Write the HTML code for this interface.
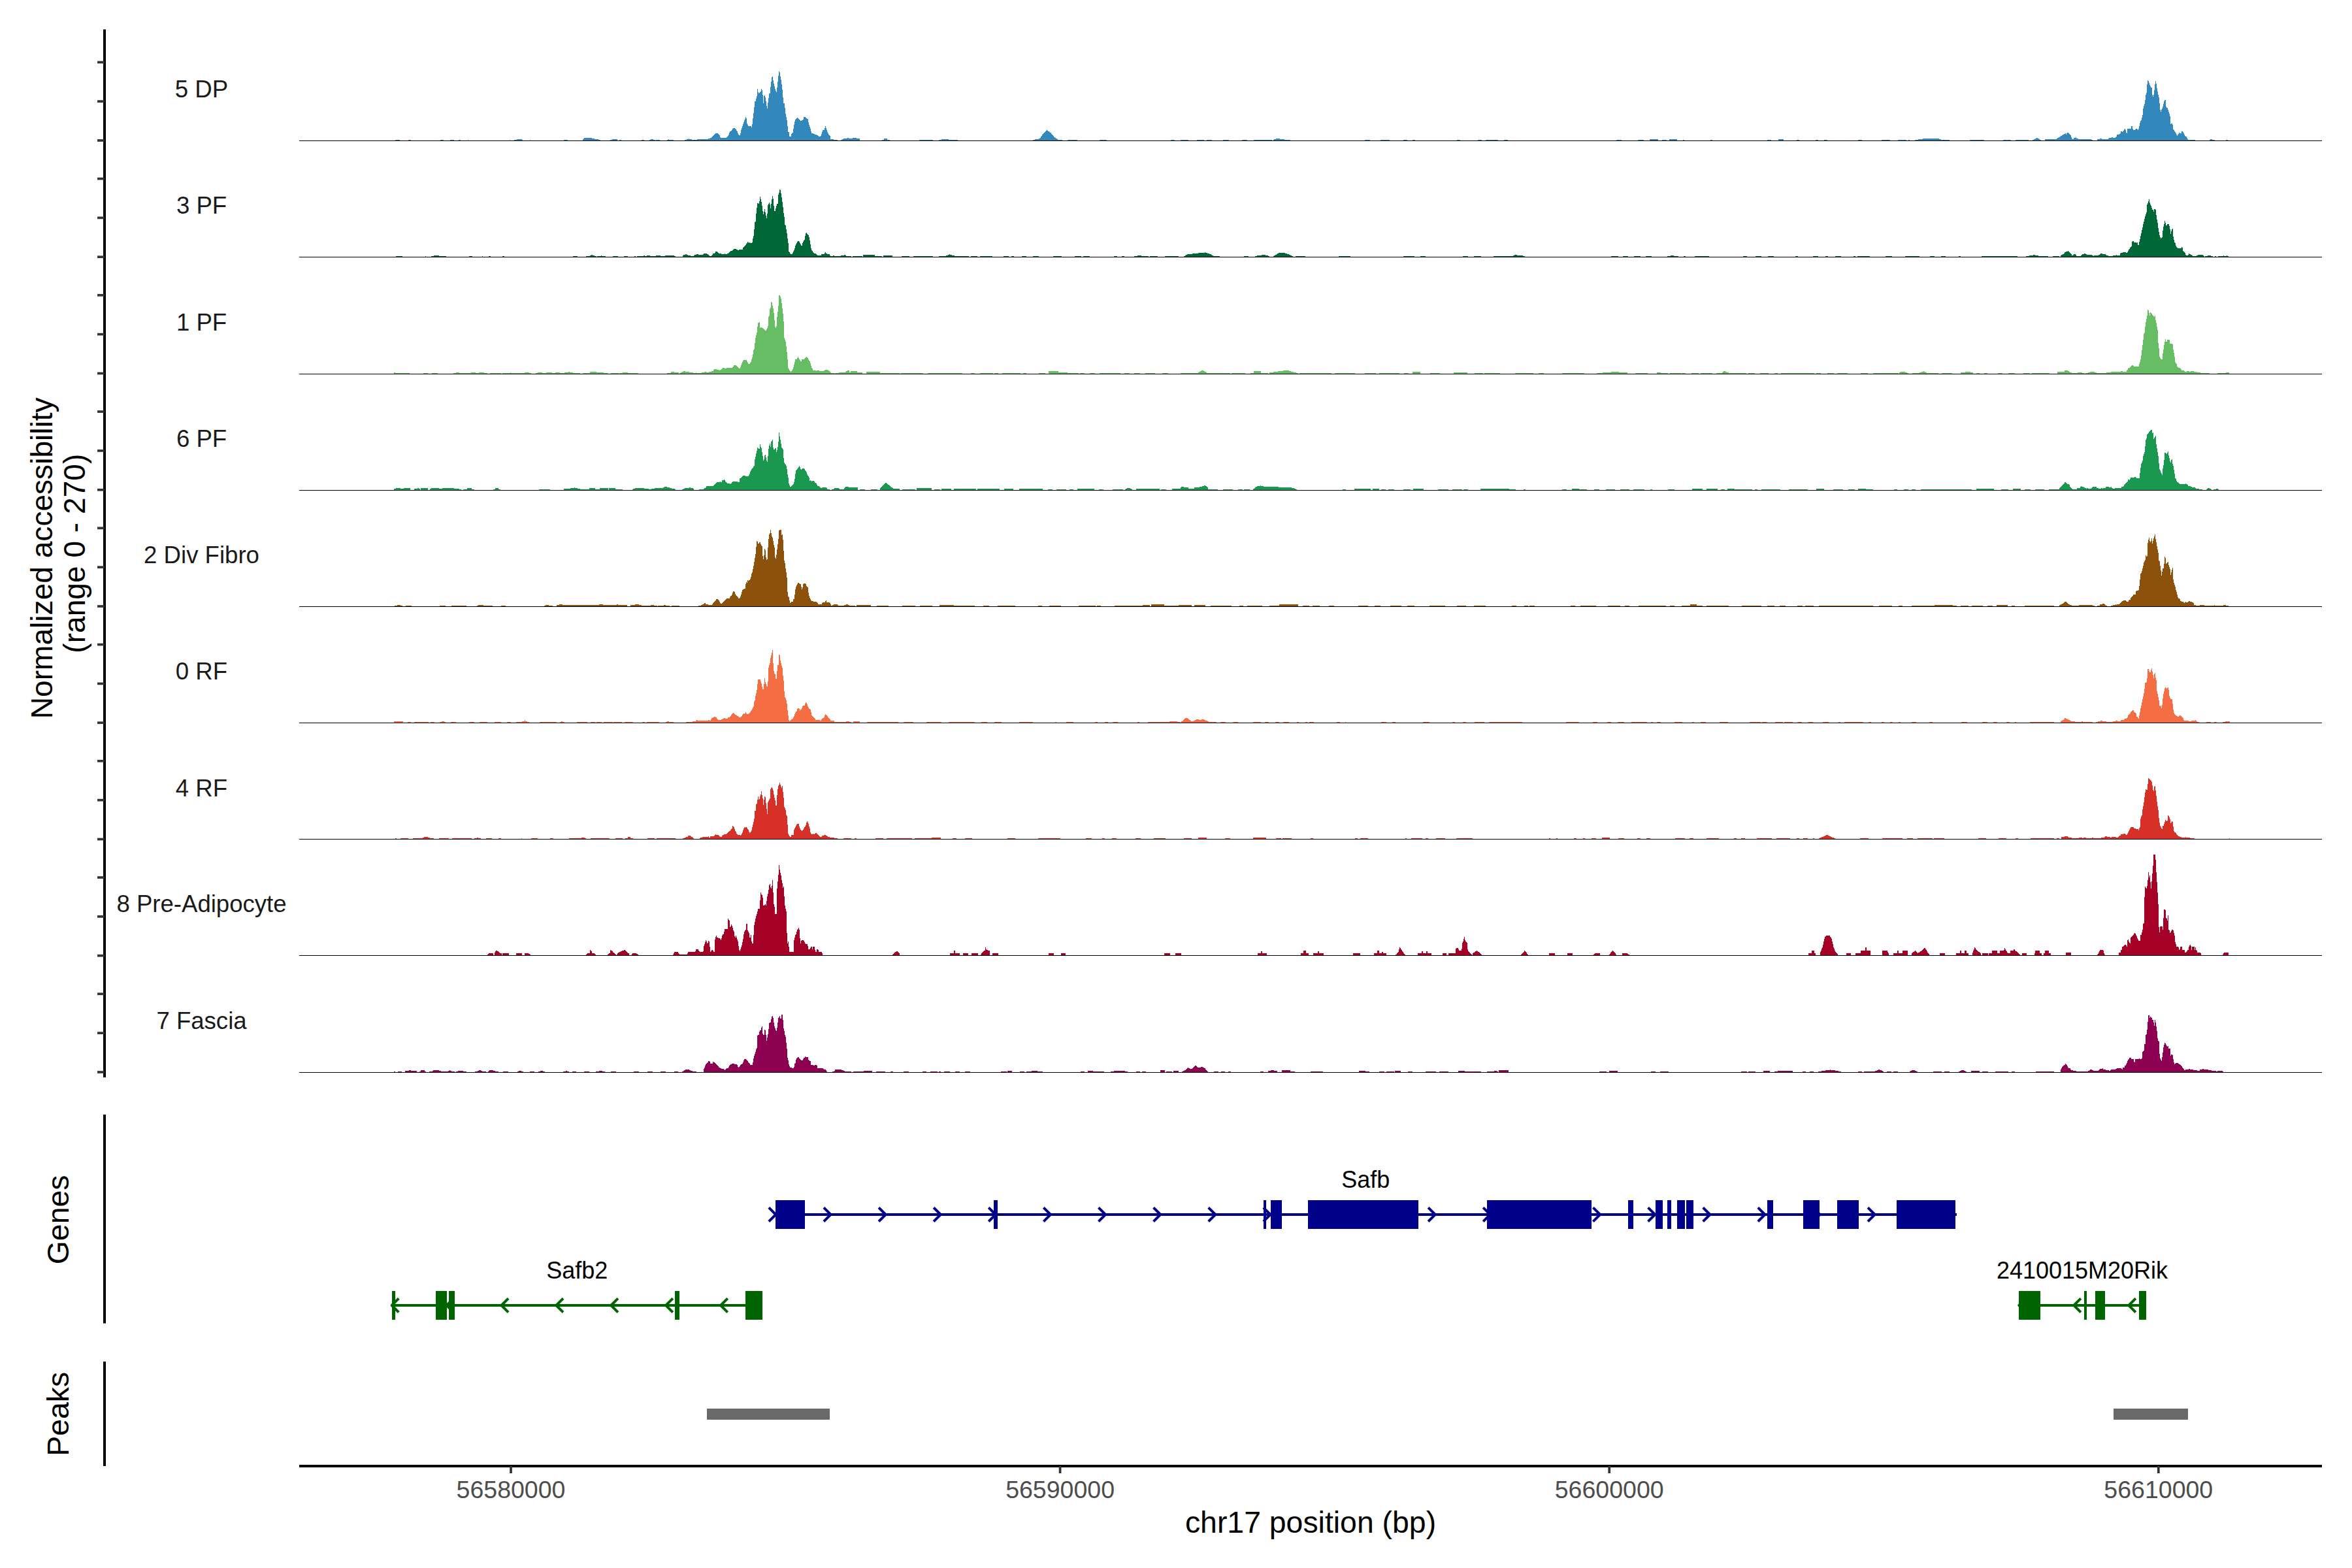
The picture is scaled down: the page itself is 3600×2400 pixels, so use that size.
<!DOCTYPE html>
<html><head><meta charset="utf-8"><title>Coverage plot</title>
<style>
html,body{margin:0;padding:0;background:#fff;}
body{width:3600px;height:2400px;overflow:hidden;}
svg{display:block;}
text{font-family:"Liberation Sans",sans-serif;}
</style></head><body>
<svg width="3600" height="2400" viewBox="0 0 3600 2400">
<rect width="3600" height="2400" fill="#fff"/>
<g shape-rendering="crispEdges">
<path fill="#3288BD" d="M605 216v-2h7v2zM625 216v-2h4v2zM674 216v-2h5v2zM689 216v-2h6v2zM702 216v-2h3v2zM716 216v-2h1v2zM780 216v-2h1v2zM787 216v-2h4v-1h8v1h1v2zM811 216v-2h1v2zM863 216v-2h6v2zM892 216v-3h1v-1h1v-1h12v1h4v1h6v1h3v2zM934 216v-2h3v-1h8v3zM948 216v-2h3v2zM982 216v-2h4v2zM994 216v-2h2v-1h4v1h3v2zM1004 216v-2h6v2zM1021 216v-2h2v-1h1v1h7v2zM1048 216v-2h3v-1h3v-1h1v1h4v1h8v-1h17v-1h3v-1h2v-1h1v-1h1v-1h1v-1h1v-1h1v-1h1v-1h4v1h1v1h1v1h1v3h1v1h9v-1h1v-1h1v-1h1v-2h1v-3h1v-2h2v-1h1v-1h1v-2h1v-1h3v1h1v1h1v2h1v1h1v3h1v2h1v1h2v-3h1v-5h1v-3h1v-3h1v-3h1v-3h1v-3h1v-2h1v-3h1v2h1v8h1v2h1v2h5v2h1v-5h1v-9h1v-8h1v-9h1v-9h2v-4h1v-4h1v-11h1v5h1v2h1v-1h1v-1h1v-1h1v-4h1v2h1v7h1v13h1v-11h1v-1h1v3h1v6h1v7h1v4h1v-9h1v-7h1v-7h2v-10h1v-8h1v-7h1v-1h1v6h1v5h1v4h1v4h1v3h1v2h1v-7h1v-9h1v-9h1v-7h1v2h1v6h1v5h1v7h1v8h1v12h1v9h2v7h1v9h1v5h1v5h1v9h1v9h2v7h3v-4h1v-1h1v-1h1v-6h1v-6h1v-5h1v-3h1v-1h1v-1h1v-1h1v1h1v1h1v1h1v1h1v1h2v-1h2v-1h1v-4h3v1h1v1h1v1h2v5h1v4h1v3h1v3h1v4h1v3h3v1h2v1h3v1h2v1h1v1h3v-1h1v-3h1v-3h1v-3h3v-3h1v-3h1v3h1v3h1v3h1v2h1v2h1v1h1v1h1v5h5v1h6v2zM1287 216v-2h2v-1h2v-1h6v-1h2v1h6v-1h6v1h5v4zM1350 216v-2h3v-2h5v2h4v2zM1407 216v-2h21v2zM1437 216v-2h4v-1h11v1h14v2zM1581 216v-2h3v-1h6v-1h2v-1h1v-2h1v-1h1v-2h1v-1h1v-1h1v-1h1v-1h1v-1h1v-1h1v-1h1v1h1v1h2v1h1v1h2v2h1v1h1v1h1v1h1v2h2v1h1v1h2v1h1v1h7v2zM1634 216v-2h15v2zM1683 216v-2h11v2zM1792 216v-2h6v2zM1807 216v-2h12v2zM1832 216v-2h11v2zM1847 216v-2h8v2zM1872 216v-2h9v2zM1901 216v-2h8v2zM1919 216v-2h28v2zM1949 216v-2h1v-1h3v-1h6v1h7v1h9v2zM2089 216v-2h8v2zM2113 216v-2h14v2zM2148 216v-2h6v2zM2162 216v-2h4v2zM2230 216v-2h5v2zM2262 216v-2h6v2zM2274 216v-2h19v2zM2302 216v-2h6v2zM2474 216v-2h8v2zM2507 216v-2h9v2zM2525 216v-3h13v3zM2544 216v-2h7v2zM2555 216v-3h12v3zM2576 216v-2h2v2zM2618 216v-2h3v2zM2705 216v-2h6v2zM2722 216v-3h8v3zM2750 216v-2h4v2zM2779 216v-2h4v2zM2792 216v-2h5v2zM2844 216v-2h6v2zM2880 216v-2h13v2zM2905 216v-2h13v2zM2921 216v-2h2v2zM2931 216v-2h5v-1h7v-1h25v1h3v1h13v2zM3015 216v-2h22v2zM3066 216v-2h12v2zM3085 216v-2h20v2zM3111 216v-2h2v-1h2v-1h2v-1h2v1h2v1h1v1h2v2zM3130 216v-3h18v-1h1v-1h2v-1h2v-1h1v-1h2v-1h1v-1h2v-1h2v-1h1v2h1v-2h1v-1h2v1h1v1h1v1h1v1h1v3h1v2h1v1h2v-2h3v-1h1v2h3v1h20v1h2v2zM3210 216v-3h4v-1h3v1h10v-1h1v-1h4v-1h2v1h4v-1h1v-1h1v-3h4v-1h1v-1h1v-3h2v1h1v-1h1v-1h1v-2h1v-1h1v2h1v4h1v1h1v-7h6v-4h2v4h1v2h3v-1h1v-1h2v1h1v1h1v-2h1v-4h1v-5h1v-3h1v-1h1v-4h1v-4h1v-10h1v-4h1v-3h1v-6h1v-8h1v-3h1v-13h1v-6h1v1h1v3h1v3h1v2h1v2h2v11h1v3h1v-3h1v-7h1v-9h1v-5h1v4h1v7h1v5h1v5h1v4h1v9h1v10h1v3h1v-3h1v-2h1v-3h1v-4h1v-4h1v-2h2v10h1v2h2v3h1v3h1v3h1v4h1v12h1v-1h2v2h1v7h1v1h1v2h1v1h1v2h1v2h1v2h1v-2h1v-1h1v-2h1v1h3v-3h2v1h1v2h1v2h1v2h1v1h2v2h1v2h1v1h11v2zM3382 216v-2h1v-1h3v1h4v2zM3407 216v-2h3v2z"/>
<rect x="458" y="215" width="3096" height="1" fill="#000"/>
<path fill="#006837" d="M606 394v-2h10v2zM651 394v-2h1v2zM660 394v-2h4v-1h8v1h11v2zM718 394v-2h5v2zM738 394v-2h1v2zM748 394v-2h3v2zM769 394v-2h3v2zM877 394v-2h7v2zM897 394v-2h6v-1h2v-1h2v1h3v1h3v2zM914 394v-2h6v-1h1v1h6v2zM938 394v-2h8v2zM955 394v-2h6v2zM971 394v-2h2v2zM975 394v-2h10v-1h2v1h3v-1h5v1h9v-1h7v1h7v-1h14v1h2v2zM1045 394v-3h1v-1h3v-1h2v1h2v1h4v1h5v-1h1v-1h3v-1h3v1h7v-1h1v-1h5v1h2v1h1v1h1v1h3v-1h1v-1h1v-2h3v-1h1v-2h3v1h1v1h1v1h4v1h5v-1h1v1h3v-1h2v-1h1v-1h1v-1h1v-1h3v-1h1v-1h1v-1h4v1h2v1h2v-1h6v-3h1v-1h1v-1h1v-1h1v-1h1v-2h1v-1h1v-2h1v1h1v1h1v-1h1v1h3v-1h1v-6h1v-4h1v-10h1v-11h1v-1h1v-12h1v-9h1v-7h2v1h1v-4h1v-7h1v4h1v4h1v6h1v8h1v5h1v-4h1v-4h1v5h1v5h1v4h1v-7h1v-13h1v-2h1v-2h1v3h1v6h1v-7h1v-7h1v-5h1v4h1v11h1v8h2v-4h1v-4h1v-3h2v-14h1v-3h1v-5h1v1h1v5h1v6h1v7h1v8h1v9h1v6h1v12h1v1h1v6h1v6h1v8h1v7h1v13h1v1h1v2h1v1h3v-2h1v-2h1v-2h1v-3h1v-4h1v-2h1v-2h1v-2h1v-1h2v1h1v2h1v2h1v2h2v-4h1v-2h1v-2h1v-1h1v-6h1v-4h1v-1h1v2h1v1h1v1h1v3h1v5h1v6h1v6h1v3h1v1h1v2h1v1h1v1h3v1h1v1h1v1h6v-2h5v-2h1v-1h1v2h2v1h4v2h1v1h4v-1h2v1h10v-1h5v-1h2v1h1v1h8v2zM1305 394v-2h15v2zM1321 394v-4h18v2h11v2zM1352 394v-3h14v3zM1380 394v-2h12v2zM1398 394v-2h30v2zM1437 394v-2h11v-1h3v-1h2v-1h1v1h3v1h4v1h22v2zM1486 394v-2h10v2zM1500 394v-2h19v2zM1536 394v-2h8v2zM1548 394v-2h4v2zM1564 394v-2h7v2zM1581 394v-2h9v2zM1612 394v-2h13v2zM1645 394v-2h10v2zM1658 394v-2h10v2zM1705 394v-2h5v2zM1717 394v-2h4v2zM1736 394v-2h5v-1h6v1h11v2zM1760 394v-2h12v2zM1783 394v-2h21v2zM1812 394v-2h2v-1h1v-1h2v-1h8v-1h9v-1h10v-1h1v1h3v1h3v1h3v1h1v1h2v1h10v2zM1904 394v-2h7v2zM1921 394v-2h3v-1h7v-1h6v1h4v1h2v2zM1949 394v-2h1v-1h2v-1h2v-1h1v-1h2v-1h10v1h3v1h3v1h2v1h2v1h2v2zM1983 394v-2h15v2zM2049 394v-2h18v2zM2148 394v-2h17v2zM2174 394v-2h8v2zM2239 394v-2h8v2zM2256 394v-2h11v2zM2286 394v-2h30v-1h2v-1h4v1h9v1h3v2zM2466 394v-2h11v2zM2484 394v-2h8v2zM2501 394v-2h10v2zM2519 394v-2h9v2zM2552 394v-2h5v-1h5v1h7v2zM2577 394v-2h3v2zM2594 394v-2h22v2zM2668 394v-2h6v2zM2687 394v-2h9v2zM2706 394v-2h9v2zM2748 394v-2h4v2zM2775 394v-2h8v2zM2794 394v-2h4v2zM2809 394v-2h9v2zM2837 394v-2h3v2zM2843 394v-2h19v2zM2886 394v-2h10v2zM2916 394v-2h22v2zM2954 394v-2h7v2zM2971 394v-2h7v2zM2998 394v-2h3v2zM3033 394v-2h55v2zM3101 394v-2h5v-1h6v-1h3v1h5v1h15v2zM3142 394v-2h10v2zM3154 394v-3h1v-1h2v-1h2v-1h1v-2h2v-1h3v-1h1v1h1v1h1v1h1v1h1v1h1v2h2v-1h1v-1h3v1h1v2h7v-1h1v-1h1v-1h3v-1h2v1h2v1h8v1h2v1h1v-1h7v-1h2v-1h1v-1h3v1h5v1h1v1h3v1h7v-1h5v-1h1v1h5v-3h1v-1h3v-1h5v1h2v-1h1v-2h1v-2h1v-1h1v-2h1v-1h1v-1h1v-7h1v-1h2v2h4v1h1v-1h1v4h2v-5h1v-4h1v-5h1v-4h1v-5h1v-4h1v-5h1v-4h1v-4h1v-4h1v-3h1v-3h1v-12h1v-2h1v-3h1v-3h1v5h1v3h1v2h1v3h1v3h2v3h1v-4h2v1h1v8h1v7h1v5h1v8h1v6h1v5h1v3h1v2h1v-1h1v-1h1v-10h1v-6h1v-4h1v-5h1v3h1v4h2v-2h3v3h1v5h1v7h1v-4h1v-3h1v-1h1v12h1v5h1v4h1v1h1v4h1v2h1v1h1v1h6v-2h1v1h1v5h1v1h1v1h1v1h1v3h1v1h3v-1h1v-2h1v1h2v1h2v1h1v1h6v-1h2v-1h8v1h1v1h1v2zM3375 394v-2h4v-1h5v1h3v2zM3390 394v-2h2v2zM3395 394v-2h8v-1h1v1h4v-1h1v1h2v2z"/>
<rect x="458" y="393" width="3096" height="1" fill="#000"/>
<path fill="#66BD63" d="M603 573v-3h2v1h22v2zM648 573v-2h7v2zM661 573v-2h9v2zM694 573v-2h4v-1h5v1h18v-1h7v1h5v-1h8v1h5v2zM750 573v-2h17v2zM769 573v-2h12v-1h1v1h21v-1h7v1h3v2zM820 573v-2h3v-1h7v1h6v-1h9v1h5v-1h7v1h7v-1h6v-1h2v1h5v1h11v2zM892 573v-2h11v-2h10v1h11v1h7v2zM935 573v-2h12v2zM948 573v-2h5v-1h8v1h16v2zM1021 573v-2h6v-2h5v1h7v3zM1040 573v-2h2v-1h2v-1h2v-1h3v1h6v1h6v1h4v-1h1v1h8v-1h4v-1h3v1h4v-1h4v-1h3v-2h1v-1h4v1h4v1h1v-1h2v-1h1v-1h1v-1h3v1h3v-1h9v-1h1v-1h1v-2h4v1h1v1h1v1h1v1h1v1h2v-2h1v-3h1v-3h1v-2h1v-2h1v-1h5v2h1v2h1v2h3v-2h1v-1h1v-4h1v-3h1v-5h1v-6h1v-2h1v-9h1v-8h1v-4h1v-4h1v-9h1v-6h2v-1h1v9h1v-1h2v1h2v1h1v1h1v1h1v1h2v-2h1v-2h1v-3h1v-14h1v-2h1v-10h1v-2h1v-9h1v1h1v5h1v4h1v7h1v11h1v10h1v2h1v-3h1v-14h1v-8h1v-9h1v-16h2v2h1v3h1v7h1v8h1v8h1v12h1v25h1v3h1v3h1v7h1v9h1v11h1v13h1v2h1v2h1v1h1v1h1v-1h1v-1h1v-2h1v-3h1v-4h1v-4h1v-4h3v-2h1v-2h1v2h1v2h1v1h1v2h2v-3h4v-1h1v-1h1v-1h1v-1h1v1h1v1h1v2h1v2h1v1h1v3h1v4h1v3h1v1h1v3h5v1h1v-1h4v1h7v-1h2v-1h4v1h2v1h1v1h1v1h1v1h5v2zM1278 573v-2h6v-1h10v-1h1v-1h2v-1h3v3h2v-2h10v2h8v3zM1326 573v-4h21v2h30v2zM1379 573v-2h34v2zM1420 573v-2h53v2zM1486 573v-2h6v2zM1500 573v-2h20v2zM1522 573v-2h6v2zM1534 573v-2h28v2zM1566 573v-2h5v2zM1590 573v-2h10v2zM1605 573v-5h15v2h14v1h17v2zM1653 573v-2h7v2zM1668 573v-2h8v2zM1683 573v-2h32v2zM1721 573v-2h8v2zM1736 573v-2h9v2zM1753 573v-2h15v2zM1779 573v-2h9v2zM1807 573v-2h27v-1h1v-1h2v-1h2v-1h3v1h2v1h2v1h1v1h36v2zM1885 573v-2h21v2zM1914 573v-2h5v-3h11v3h11v2zM1943 573v-3h6v-1h7v-1h8v-1h9v1h3v1h4v1h4v1h3v2zM1989 573v-2h49v2zM2043 573v-2h31v2zM2089 573v-2h17v2zM2111 573v-2h31v2zM2149 573v-2h7v2zM2162 573v-4h12v4zM2189 573v-2h15v2zM2225 573v-3h21v3zM2257 573v-2h13v2zM2272 573v-2h24v2zM2319 573v-2h28v2zM2355 573v-2h8v2zM2391 573v-2h34v2zM2444 573v-2h9v-1h13v-1h12v1h13v3zM2503 573v-2h19v2zM2536 573v-3h6v1h11v2zM2556 573v-2h17v2zM2574 573v-2h6v2zM2589 573v-2h11v2zM2603 573v-2h18v2zM2627 573v-2h9v-1h1v-1h1v-1h3v1h2v1h3v1h27v2zM2676 573v-2h10v2zM2694 573v-2h13v2zM2716 573v-2h5v2zM2726 573v-2h51v2zM2780 573v-2h7v2zM2797 573v-2h10v2zM2812 573v-2h16v2zM2848 573v-2h11v2zM2867 573v-2h39v2zM2907 573v-3h2v-1h7v1h3v1h2v2zM2927 573v-2h11v-1h3v-1h3v-1h1v1h2v1h2v1h18v2zM2972 573v-2h16v2zM3001 573v-3h7v-1h8v1h4v3zM3025 573v-2h5v2zM3037 573v-2h5v2zM3058 573v-2h7v2zM3074 573v-2h10v2zM3097 573v-2h10v2zM3110 573v-2h27v2zM3149 573v-4h11v-2h5v1h2v1h1v1h3v1h9v-1h7v1h4v2zM3192 573v-2h4v-1h3v-1h7v1h3v1h15v-1h7v-1h15v-1h3v1h6v-2h1v-1h1v-2h1v-1h2v-1h1v-1h1v-1h1v-1h2v1h1v1h8v-4h1v-3h1v-4h1v-6h1v-8h1v-8h1v-8h1v-9h1v-2h1v-9h1v-7h1v-5h1v-5h1v-9h1v1h1v4h1v4h1v-5h1v1h1v1h1v2h1v1h1v1h1v1h1v-2h1v7h1v4h1v6h1v5h1v20h1v8h1v13h1v2h1v2h3v-9h1v-6h1v-7h1v-5h1v-4h1v4h2v-3h4v6h4v1h1v8h1v5h1v6h1v8h1v2h1v1h1v4h1v1h1v1h3v1h1v1h1v2h4v1h1v1h3v-1h4v1h2v-1h5v1h3v1h1v-1h1v1h5v1h14v2zM3394 573v-2h13v-1h5v3z"/>
<rect x="458" y="572" width="3096" height="1" fill="#000"/>
<path fill="#1A9850" d="M603 751v-3h3v-1h7v1h5v-1h10v4zM634 751v-3h5v-1h2v1h2v3zM644 751v-4h11v4zM658 751v-3h2v-1h12v1h5v-1h18v1h8v1h3v2zM709 751v-2h6v-2h7v2h4v2zM755 751v-2h3v-2h5v2h3v2zM825 751v-2h17v2zM863 751v-3h10v-1h6v-1h1v1h4v1h4v1h14v-2h9v2h7v-2h13v4zM932 751v-4h10v2h11v2zM968 751v-2h1v-1h3v-1h14v1h7v1h4v-1h5v-1h13v-1h2v-1h4v1h4v1h3v1h5v1h1v2zM1044 751v-2h2v-1h2v-1h7v-1h2v1h4v1h1v3zM1070 751v-2h7v-1h1v-1h2v-1h1v-2h11v-1h1v-1h1v-1h1v-1h1v-1h1v-1h5v-1h1v1h2v-3h3v-1h1v1h1v2h1v1h1v1h1v1h4v1h1v-1h2v-2h1v-1h8v1h3v-6h2v-1h1v-1h1v-1h1v-1h4v1h5v-2h1v-2h1v-3h1v-2h1v-2h1v-1h1v-1h1v-2h1v-1h1v-10h1v-4h1v-5h1v-4h1v-5h1v1h1v1h2v-7h1v4h1v2h1v6h1v6h1v7h1v-2h1v-6h1v-1h1v4h1v5h1v2h1v-9h1v-11h1v-5h1v-3h1v5h1v-8h1v-1h1v-2h1v12h1v3h2v-2h2v6h1v-3h1v-5h1v-8h1v-14h1v6h1v5h1v6h1v6h1v1h1v2h1v13h1v7h1v2h1v1h1v2h1v5h1v8h1v5h1v9h1v3h1v2h2v-1h1v-1h1v-1h1v-1h1v-3h1v-5h1v-8h1v-5h1v-1h1v-1h1v-2h1v-1h1v-2h1v2h1v3h1v1h1v-1h1v-1h3v1h1v2h1v1h1v2h1v3h1v2h1v1h1v2h1v5h1v-1h1v1h1v1h1v-1h3v1h1v2h2v1h1v2h1v2h3v1h1v1h1v1h2v-1h7v1h1v2h4v2zM1273 751v-2h3v-1h1v-1h7v1h1v1h7v-2h1v-1h1v-1h5v1h14v5zM1316 751v-2h8v2zM1333 751v-2h10v2zM1347 751v-4h1v-1h1v-1h1v-1h1v-1h1v-1h1v-1h1v-1h1v-1h2v1h1v1h1v1h2v1h1v1h1v1h1v1h2v1h1v1h10v3zM1381 751v-2h20v2zM1403 751v-4h23v4zM1430 751v-2h9v2zM1441 751v-3h15v3zM1460 751v-3h34v3zM1496 751v-3h34v3zM1537 751v-3h14v3zM1560 751v-3h36v3zM1604 751v-2h7v2zM1617 751v-2h15v2zM1637 751v-2h6v2zM1649 751v-3h26v3zM1682 751v-2h7v2zM1703 751v-2h16v2zM1722 751v-2h1v-1h2v-1h5v1h2v1h1v2zM1739 751v-3h36v3zM1777 751v-2h8v2zM1794 751v-3h13v-2h1v-1h4v1h7v2h9v-2h8v-1h4v-1h3v-1h2v1h2v1h1v1h1v3h15v2zM1872 751v-2h15v2zM1895 751v-2h7v2zM1904 751v-2h9v2zM1918 751v-3h2v-1h1v-1h1v-1h2v-1h5v-1h1v1h4v1h23v1h20v1h4v1h2v1h2v2zM2055 751v-2h5v2zM2073 751v-3h25v3zM2101 751v-3h10v3zM2114 751v-2h7v2zM2125 751v-2h9v2zM2148 751v-2h11v2zM2163 751v-3h16v3zM2201 751v-2h16v2zM2223 751v-2h15v2zM2240 751v-2h7v2zM2266 751v-3h44v1h10v2zM2332 751v-2h3v2zM2391 751v-2h7v2zM2406 751v-3h11v1h12v2zM2440 751v-2h8v2zM2458 751v-2h14v2zM2480 751v-2h14v2zM2500 751v-2h17v2zM2526 751v-2h3v2zM2553 751v-2h10v2zM2590 751v-3h16v3zM2612 751v-3h17v3zM2634 751v-2h6v2zM2644 751v-3h11v1h27v2zM2686 751v-2h4v2zM2696 751v-2h29v2zM2738 751v-2h29v2zM2780 751v-3h12v3zM2806 751v-2h15v2zM2829 751v-2h10v2zM2844 751v-3h12v1h11v2zM2899 751v-2h5v2zM2914 751v-2h7v2zM2926 751v-2h6v2zM2940 751v-2h78v2zM3025 751v-3h27v3zM3063 751v-2h11v2zM3081 751v-3h12v3zM3099 751v-2h9v2zM3115 751v-2h14v2zM3136 751v-2h16v-2h1v-1h1v-1h1v-1h1v-1h1v-1h1v-1h1v-1h1v-2h2v1h1v1h1v1h3v1h1v3h1v1h1v1h1v1h1v1h7v-2h5v-2h1v-1h1v1h3v1h2v1h2v1h1v-1h2v1h5v-1h1v-1h1v-1h6v2h3v1h4v-1h2v1h1v-1h4v-2h5v1h3v-1h1v2h2v1h3v-1h10v-2h3v-1h1v-2h1v-1h1v-1h1v-1h1v-1h1v-1h1v-3h2v1h1v-2h1v-2h6v-1h2v1h1v1h5v-8h1v-8h1v-6h1v-2h1v-3h1v-7h1v-3h1v-3h1v-9h1v-10h1v-2h1v-6h1v-1h1v-1h1v-2h1v-1h1v-1h1v-1h2v5h1v-1h1v10h1v-2h1v-1h1v-2h1v13h1v6h1v6h1v6h1v11h1v9h1v2h1v3h1v2h1v2h1v-10h1v-5h1v-8h1v-11h2v1h1v1h1v-2h1v-2h1v6h1v4h1v5h1v2h1v-4h1v-1h1v7h1v3h1v6h1v6h1v7h1v1h1v3h1v2h2v1h1v1h1v1h9v-1h1v1h2v1h1v2h4v1h2v1h5v1h1v1h5v1h5v2zM3377 751v-2h1v-1h1v-1h3v1h2v1h1v2zM3388 751v-2h4v-1h3v1h1v2z"/>
<rect x="458" y="750" width="3096" height="1" fill="#000"/>
<path fill="#8C510A" d="M604 929v-2h4v-1h5v1h3v2zM621 929v-2h9v2zM673 929v-2h9v2zM691 929v-2h23v2zM730 929v-2h2v-1h8v1h14v2zM767 929v-2h7v2zM833 929v-2h2v-1h5v1h6v2zM852 929v-3h4v-1h5v1h56v-1h6v1h21v-1h2v1h14v3zM965 929v-3h7v-1h6v1h4v1h14v-1h5v1h5v2zM1007 929v-2h9v-1h3v1h6v2zM1028 929v-2h12v2zM1069 929v-2h4v-1h2v-1h2v-1h1v-1h2v2h4v1h6v-1h1v-2h1v-1h1v-1h1v-1h1v-1h1v-2h3v1h1v1h1v2h1v2h1v1h2v-1h1v-1h1v-1h1v-1h1v-1h1v-1h1v-1h1v-1h5v-2h1v-2h2v-2h1v-3h1v-2h2v1h1v3h1v2h1v1h1v1h1v1h1v2h2v-1h1v-2h1v-3h1v-4h1v-3h1v-1h2v-1h2v-7h1v-3h1v1h1v-4h1v1h1v-1h2v-2h1v-3h1v-5h1v-2h1v-5h1v-5h1v-6h1v-6h1v-6h1v-11h1v-9h1v1h1v3h2v-2h2v3h1v2h1v1h1v15h1v5h1v-6h1v-10h1v2h1v11h1v4h1v-1h1v-18h1v-13h1v-7h1v-2h1v-5h1v5h1v5h1v2h1v5h1v6h1v4h1v15h1v2h1v-6h1v-8h1v-8h1v-8h1v-13h1v-1h3v8h1v-1h1v8h1v17h1v15h1v4h1v8h1v6h1v8h1v22h1v7h1v1h1v5h1v4h1v-1h1v-1h3v-4h2v-7h1v-8h1v-4h1v-2h1v-2h1v-2h2v1h1v1h2v4h1v4h1v-3h1v-5h1v-1h3v1h1v3h1v1h1v1h1v8h1v5h1v3h1v2h1v2h1v1h3v1h5v1h1v1h1v2h6v-2h1v-1h4v-2h1v-1h1v3h5v1h1v2h1v2h2v-1h2v-1h6v1h1v1h9v-1h3v-1h3v1h2v1h9v2zM1311 929v-3h22v3zM1342 929v-2h18v2zM1381 929v-2h20v2zM1408 929v-2h19v2zM1438 929v-3h22v1h32v2zM1505 929v-2h9v2zM1527 929v-2h27v2zM1589 929v-2h6v2zM1606 929v-2h18v2zM1651 929v-2h26v2zM1679 929v-2h6v2zM1706 929v-2h43v-1h11v3zM1762 929v-4h20v2h22v-1h20v3zM1828 929v-3h17v3zM1853 929v-2h32v2zM1897 929v-2h6v2zM1909 929v-2h23v2zM1943 929v-2h15v-2h29v4zM1994 929v-2h10v2zM2009 929v-2h11v2zM2034 929v-2h8v2zM2079 929v-2h15v2zM2104 929v-2h9v2zM2128 929v-2h17v2zM2154 929v-2h11v2zM2188 929v-2h24v2zM2230 929v-2h14v2zM2256 929v-2h18v2zM2314 929v-2h7v2zM2333 929v-2h6v2zM2341 929v-2h8v2zM2404 929v-2h7v2zM2419 929v-2h24v2zM2461 929v-2h19v2zM2487 929v-2h7v2zM2508 929v-2h42v2zM2556 929v-2h7v2zM2574 929v-2h13v-2h10v2h9v2zM2612 929v-2h34v2zM2666 929v-2h30v2zM2705 929v-2h11v2zM2724 929v-2h9v2zM2751 929v-2h8v2zM2763 929v-2h13v2zM2784 929v-2h83v2zM2876 929v-2h20v2zM2906 929v-2h6v2zM2926 929v-2h35v-1h28v1h6v2zM3001 929v-2h12v2zM3018 929v-2h17v2zM3042 929v-2h8v2zM3056 929v-3h17v3zM3079 929v-2h5v2zM3099 929v-2h45v2zM3152 929v-3h2v-1h2v-1h2v-1h1v-1h1v-1h3v1h1v1h1v1h1v1h2v1h3v1h11v-1h21v1h3v2zM3210 929v-2h4v-2h4v-1h3v1h1v1h1v1h2v2zM3231 929v-2h3v-1h4v-1h1v1h1v-1h4v-1h1v-1h1v-1h1v-1h1v-1h2v-1h4v1h1v1h3v-2h1v-1h2v-3h1v-1h1v-1h1v-1h1v-2h4v-5h1v-1h3v-1h1v-6h1v-10h1v-9h1v-1h1v-3h1v-4h1v-4h1v-5h1v-2h1v-2h1v-7h1v2h1v-1h1v-20h1v-5h1v-3h1v5h1v2h1v-2h1v-4h1v8h1v-4h1v-4h1v-3h1v-3h1v7h1v5h1v6h1v5h1v5h1v12h1v1h1v7h1v7h1v8h1v-6h1v-5h2v-7h1v-11h1v2h1v9h1v-1h1v-1h1v-1h1v5h1v3h1v3h1v9h1v-4h1v-4h1v-3h1v18h1v5h1v3h1v3h1v5h1v3h1v4h1v4h1v2h2v1h1v3h2v1h3v1h1v1h1v-1h1v-1h1v1h3v-1h1v-1h2v1h3v1h2v1h1v3h3v1h6v-1h7v1h15v-1h1v1h13v-1h4v1h4v2z"/>
<rect x="458" y="928" width="3096" height="1" fill="#000"/>
<path fill="#F46D43" d="M603 1107v-3h14v3zM624 1107v-2h5v2zM634 1107v-2h22v2zM659 1107v-2h6v2zM673 1107v-2h3v-1h4v1h2v2zM690 1107v-2h8v2zM718 1107v-2h8v2zM734 1107v-2h12v2zM757 1107v-2h10v2zM776 1107v-2h6v2zM790 1107v-2h9v-1h4v-2h1v2h3v1h3v2zM826 1107v-2h26v2zM857 1107v-2h2v-1h2v1h3v2zM883 1107v-2h16v2zM904 1107v-2h7v2zM913 1107v-2h8v2zM924 1107v-2h14v2zM939 1107v-2h13v2zM956 1107v-2h13v2zM983 1107v-2h4v2zM990 1107v-2h19v2zM1019 1107v-2h2v-1h3v1h7v2zM1050 1107v-2h10v-1h5v-1h1v-1h2v1h16v-1h2v1h2v-2h1v-2h2v-1h2v-1h2v1h2v2h1v1h1v1h5v-1h2v-1h2v-1h2v1h4v-2h3v-1h1v-1h1v-2h1v-1h1v-1h1v-1h1v1h1v1h1v1h2v1h1v1h2v1h1v1h3v-1h1v-1h1v-2h1v-1h1v-1h1v1h1v-1h1v-2h1v2h1v1h3v-1h1v-1h1v-1h1v-2h1v-1h1v-2h1v-2h1v-2h1v-7h1v-2h1v-7h1v-4h1v-5h1v-9h1v-7h4v3h1v3h1v5h1v4h2v-8h1v-9h1v6h1v3h1v3h1v1h1v-8h1v-21h1v-4h1v-3h1v-8h1v-4h1v-4h1v-4h1v20h1v12h1v4h1v1h1v7h2v-12h1v-9h2v-16h1v1h1v8h1v4h1v4h1v3h1v12h1v8h1v16h1v9h1v2h1v3h1v5h1v10h1v8h1v7h1v2h1v-1h1v-1h1v-1h2v-1h1v-2h1v-2h1v-3h1v-2h1v-2h2v-4h1v-1h2v1h1v3h1v-2h2v-2h1v-3h1v-1h3v-3h1v-2h1v1h1v2h1v3h1v2h1v2h2v1h1v4h1v5h1v1h1v1h1v1h1v1h1v1h1v2h7v1h2v-2h1v-1h1v-1h2v-1h1v-3h1v-2h1v1h1v1h1v1h1v2h1v1h1v1h1v1h1v2h6v2h18v-1h5v1h3v2zM1306 1107v-3h10v3zM1327 1107v-2h48v2zM1383 1107v-2h15v2zM1418 1107v-2h23v2zM1452 1107v-2h40v2zM1502 1107v-2h9v2zM1522 1107v-2h11v2zM1560 1107v-2h21v2zM1615 1107v-2h2v2zM1632 1107v-2h11v2zM1676 1107v-2h4v2zM1691 1107v-2h5v2zM1703 1107v-2h8v2zM1741 1107v-2h3v2zM1757 1107v-2h33v-1h12v1h5v2zM1808 1107v-3h2v-1h1v-1h1v-1h1v-1h1v-1h4v1h1v1h1v1h2v1h1v1h4v-1h2v-1h2v-1h4v1h4v-1h4v1h2v1h3v1h2v1h12v2zM1868 1107v-2h8v2zM1887 1107v-2h8v2zM1918 1107v-2h12v2zM1936 1107v-2h6v2zM1952 1107v-2h6v2zM1964 1107v-2h9v2zM1985 1107v-2h3v2zM1998 1107v-2h3v2zM2004 1107v-2h7v2zM2046 1107v-2h5v2zM2059 1107v-2h1v2zM2114 1107v-2h8v2zM2131 1107v-2h5v2zM2178 1107v-2h10v2zM2223 1107v-2h4v2zM2239 1107v-2h5v2zM2257 1107v-2h15v2zM2279 1107v-2h51v2zM2397 1107v-2h20v2zM2438 1107v-2h7v2zM2460 1107v-2h6v2zM2476 1107v-2h10v2zM2497 1107v-2h24v2zM2527 1107v-2h3v2zM2536 1107v-2h6v2zM2563 1107v-2h12v2zM2590 1107v-2h3v2zM2603 1107v-2h8v2zM2632 1107v-2h13v2zM2678 1107v-2h17v2zM2697 1107v-2h8v2zM2717 1107v-2h12v2zM2731 1107v-2h13v2zM2751 1107v-2h7v2zM2767 1107v-2h8v2zM2790 1107v-2h9v2zM2814 1107v-2h3v2zM2823 1107v-2h29v2zM2860 1107v-2h4v2zM2880 1107v-2h4v2zM2893 1107v-2h4v2zM2906 1107v-2h3v2zM2926 1107v-2h7v2zM2953 1107v-2h5v2zM3002 1107v-2h9v2zM3034 1107v-2h8v2zM3051 1107v-2h6v2zM3071 1107v-2h5v2zM3084 1107v-2h2v2zM3107 1107v-2h37v2zM3154 1107v-3h1v-1h2v-1h2v-1h1v-2h2v1h2v1h2v1h2v1h2v1h6v1h10v-1h2v1h15v2zM3208 1107v-2h3v-1h4v-1h3v1h6v1h10v-1h4v-1h3v1h5v-2h5v-1h1v-1h3v-1h1v-1h1v-3h1v-1h1v-1h1v-1h1v-2h1v-1h1v-1h1v-1h2v3h2v1h1v1h1v5h2v2h1v1h1v-5h1v-5h1v-6h1v-4h1v-5h1v-5h1v-4h1v-5h1v-7h1v-9h2v-1h1v-6h1v-14h2v3h1v2h2v-3h1v-3h1v5h1v5h1v5h1v-6h1v-2h1v7h1v4h1v17h1v4h1v5h1v5h1v8h1v1h1v-1h1v4h1v-5h1v-10h1v-7h1v-4h1v-4h1v-2h1v1h1v1h1v-1h1v-1h1v4h1v9h1v3h1v2h3v7h1v9h1v5h1v2h1v1h1v1h1v1h2v1h2v-1h1v-1h2v1h1v1h1v1h1v1h1v3h1v1h7v1h4v-1h6v-1h1v1h1v1h1v1h3v2zM3377 1107v-2h7v2zM3389 1107v-2h4v2zM3402 1107v-2h4v-1h7v3z"/>
<rect x="458" y="1106" width="3096" height="1" fill="#000"/>
<path fill="#D73027" d="M605 1285v-2h2v2zM613 1285v-2h12v2zM632 1285v-2h15v-1h2v-1h6v1h3v1h6v2zM672 1285v-2h15v2zM692 1285v-2h30v2zM726 1285v-2h4v-1h2v1h4v2zM744 1285v-2h9v2zM763 1285v-2h4v2zM798 1285v-2h1v2zM813 1285v-2h10v2zM842 1285v-2h5v2zM871 1285v-2h19v-1h5v1h2v2zM904 1285v-2h29v2zM942 1285v-2h11v2zM957 1285v-2h4v-2h4v2h4v2zM991 1285v-2h11v2zM1005 1285v-2h29v2zM1045 1285v-2h3v-1h2v-1h3v-2h4v1h1v1h2v1h1v1h1v2zM1071 1285v-2h1v-1h3v-1h9v-1h1v2h2v-2h6v-1h1v-1h1v-1h1v1h4v1h1v1h1v1h3v-2h1v-1h2v-1h4v-1h1v-1h1v-1h1v-1h1v-1h2v-2h1v-1h1v-1h1v-4h1v1h1v1h1v3h1v3h1v1h1v3h1v1h1v1h4v1h1v-1h1v-2h1v-2h1v-3h1v-3h1v-2h1v1h1v-1h2v1h1v2h1v1h1v3h1v2h1v-1h1v-1h1v-2h1v-5h1v-4h1v-4h1v-5h1v-12h2v-10h1v-1h1v-6h1v-5h1v5h1v-1h1v-4h1v-3h1v-5h1v6h1v5h1v10h1v-8h1v-5h1v1h1v9h1v9h1v8h1v-18h1v-2h1v-2h1v-2h1v-14h1v-2h1v-1h1v2h1v3h1v6h1v5h1v4h1v8h2v-16h1v-9h1v-5h1v-2h1v-3h1v3h1v3h1v2h1v-3h1v9h1v9h1v14h1v2h1v3h1v7h1v2h1v13h1v14h1v2h1v2h1v1h2v-3h4v-8h1v-2h1v-2h1v-2h1v-2h1v-1h3v4h1v3h1v2h1v1h1v1h1v-1h1v-1h1v-2h1v-2h1v-1h1v-2h1v-4h1v-2h1v2h1v2h1v4h1v3h1v6h1v2h1v1h2v-1h1v1h2v-1h1v-1h2v1h1v1h1v1h1v1h1v1h1v1h3v-2h3v-1h3v1h2v1h1v1h3v1h7v1h5v2zM1291 1285v-2h12v2zM1308 1285v-2h3v2zM1340 1285v-2h12v2zM1357 1285v-2h39v2zM1400 1285v-2h26v-1h14v3zM1458 1285v-2h6v2zM1477 1285v-2h11v2zM1542 1285v-2h12v2zM1589 1285v-2h34v2zM1662 1285v-2h9v2zM1687 1285v-2h4v2zM1702 1285v-2h7v2zM1738 1285v-2h8v2zM1766 1285v-2h18v2zM1812 1285v-2h12v2zM1834 1285v-3h13v3zM1875 1285v-2h8v2zM1918 1285v-3h20v3zM1953 1285v-2h8v2zM1963 1285v-2h14v2zM2006 1285v-2h4v2zM2074 1285v-2h4v2zM2082 1285v-2h12v2zM2151 1285v-2h2v2zM2160 1285v-2h17v2zM2182 1285v-2h4v2zM2198 1285v-2h14v2zM2229 1285v-2h25v2zM2371 1285v-2h2v2zM2382 1285v-2h2v2zM2409 1285v-2h4v2zM2423 1285v-2h3v2zM2436 1285v-2h7v2zM2452 1285v-3h12v3zM2477 1285v-2h9v2zM2506 1285v-2h5v2zM2520 1285v-2h6v2zM2564 1285v-2h15v2zM2586 1285v-2h6v2zM2612 1285v-2h19v2zM2654 1285v-2h4v2zM2665 1285v-2h6v2zM2689 1285v-2h23v2zM2719 1285v-2h21v2zM2750 1285v-2h4v2zM2760 1285v-2h7v2zM2775 1285v-2h2v2zM2784 1285v-2h2v-1h2v-1h3v-1h2v-1h2v-1h3v1h2v1h2v1h2v1h3v1h2v2zM2847 1285v-2h13v2zM2881 1285v-2h31v2zM2919 1285v-2h9v2zM2935 1285v-2h23v2zM2960 1285v-2h16v2zM3028 1285v-2h12v2zM3059 1285v-2h12v2zM3085 1285v-2h4v2zM3108 1285v-2h36v2zM3148 1285v-2h4v2zM3155 1285v-4h5v-1h5v1h1v1h5v1h11v-1h5v1h2v-1h4v1h9v-1h2v1h12v-1h5v-1h1v-1h3v1h5v1h2v-1h7v1h3v-1h1v-1h1v-1h2v-2h4v-1h3v1h1v1h2v-2h1v-2h1v-2h1v-2h1v-2h1v-2h5v2h3v1h4v2h1v-3h1v-2h1v-13h1v-3h1v-2h1v-9h1v-5h1v-6h1v-8h1v-7h1v-5h1v1h2v-9h1v-9h1v1h1v1h1v1h1v1h1v2h1v5h1v7h1v2h1v-7h1v-1h1v7h1v8h1v9h1v7h1v6h1v12h1v7h1v5h1v2h1v2h1v1h1v-5h2v-3h1v-3h1v-3h1v1h1v1h1v-1h1v-8h1v1h1v2h1v3h1v6h1v-1h1v-2h1v1h1v7h1v7h1v2h2v1h1v2h1v1h1v1h1v1h2v1h3v1h6v-1h1v1h6v1h7v2zM3412 1285v-2h1v2z"/>
<rect x="458" y="1284" width="3096" height="1" fill="#000"/>
<path fill="#A50026" d="M746 1463v-2h1v-1h1v-1h7v4zM757 1463v-5h1v-2h1v-1h2v1h2v1h1v1h1v1h3v4zM769 1463v-4h10v4zM790 1463v-4h9v4zM803 1463v-4h6v1h2v1h1v2zM897 1463v-2h1v-1h1v-1h4v-5h1v1h1v1h1v3h4v1h1v1h1v2zM930 1463v-2h1v-1h1v-1h2v-5h1v1h2v1h1v2h2v1h1v1h1v1h1v2zM944 1463v-2h1v-2h1v-1h2v-1h2v-1h2v-1h3v-1h2v1h1v1h1v1h1v1h1v1h2v4zM967 1463v-3h1v-1h6v1h2v1h1v2zM1030 1463v-2h1v-2h1v-2h6v2h1v1h1v1h12v-2h1v-2h11v-1h1v-3h4v2h1v1h1v1h5v-1h1v-8h1v-3h1v-3h1v-3h1v2h1v3h1v-1h1v-3h1v1h1v8h1v8h1v-1h1v-2h2v1h1v2h2v-19h1v-4h1v-2h1v3h2v1h3v1h1v2h1v-3h1v-4h1v-2h2v-4h1v-4h5v-16h1v2h1v1h1v10h1v-1h1v-3h1v2h1v3h1v4h1v2h1v7h1v2h1v-3h1v3h1v3h1v3h1v7h1v6h1v2h1v-3h1v-3h1v-3h1v-5h1v-5h1v-7h1v-4h1v-2h1v-1h1v-9h2v10h1v2h1v2h1v7h2v-4h1v10h1v3h2v-13h1v-15h1v-5h1v-5h1v-4h1v-3h1v-4h1v-4h3v-13h1v-12h1v3h1v1h1v4h1v12h2v-1h1v-1h1v2h1v-7h1v-7h1v-4h1v-6h1v-7h1v-2h1v5h1v2h1v-4h1v-9h1v19h1v18h1v4h1v11h3v-39h1v-11h1v-10h1v-15h1v7h1v5h1v4h1v7h1v5h1v7h1v-2h1v15h1v14h1v5h1v4h1v33h1v16h1v-3h1v8h1v8h7v-18h1v-4h1v-4h1v-1h1v-4h1v-3h1v-1h1v-2h1v3h1v13h1v8h1v-4h1v-1h3v1h1v2h1v2h1v1h3v3h1v5h3v-2h1v-2h2v4h1v-4h3v5h1v3h2v-4h2v1h1v3h5v2h1v4zM1366 1463v-2h1v-1h1v-1h1v-1h1v-1h2v-1h2v1h1v1h1v1h1v4zM1454 1463v-4h6v-4h2v4h7v4zM1474 1463v-4h8v4zM1487 1463v-4h10v4zM1501 1463v-2h1v-2h1v-1h1v-1h1v-1h1v-1h2v-5h1v3h1v1h2v1h3v8zM1519 1463v-4h9v4zM1605 1463v-4h8v4zM1624 1463v-4h7v4zM1782 1463v-4h9v4zM1799 1463v-4h9v4zM1925 1463v-4h5v-3h2v3h7v4zM1991 1463v-4h4v-4h4v4h4v4zM2010 1463v-4h7v-3h2v3h7v4zM2071 1463v-4h11v4zM2103 1463v-4h5v-4h3v4h4v-2h2v2h5v4zM2136 1463v-2h2v-2h1v-1h1v-1h1v-4h1v-3h1v1h1v2h1v1h1v2h1v1h1v2h1v1h1v1h1v2zM2170 1463v-4h6v-3h2v3h5v-3h2v3h6v4zM2208 1463v-4h6v4zM2217 1463v-4h11v-7h1v-1h3v2h1v2h4v-3h1v-9h1v-2h1v-4h1v-3h1v5h1v2h1v1h1v1h1v10h1v3h1v1h1v1h1v1h1v1h1v1h1v2zM2254 1463v-4h1v-1h2v-1h1v-1h2v-1h1v1h1v1h2v1h1v1h1v1h1v1h1v2zM2328 1463v-2h1v-1h1v-1h1v-1h1v-1h1v-2h1v1h1v1h1v1h1v2h1v1h1v2zM2371 1463v-4h9v4zM2399 1463v-4h8v4zM2439 1463v-2h1v-1h1v-1h8v4zM2463 1463v-2h1v-1h1v-2h1v-1h1v-1h1v-1h1v1h1v1h1v1h1v1h1v2h1v2zM2483 1463v-4h8v1h1v1h2v2zM2768 1463v-4h5v-4h4v4h2v4zM2786 1463v-6h1v-2h1v-3h1v-2h1v-4h1v-5h1v-4h1v-3h1v-1h1v-1h6v2h1v1h1v2h1v4h1v4h1v5h1v2h1v3h1v2h1v1h1v1h1v1h1v3zM2826 1463v-4h7v4zM2840 1463v-4h8v-4h7v-5h2v5h6v8zM2881 1463v-8h8v2h1v2h1v4zM2898 1463v-4h6v-4h2v4h6v-4h8v8zM2926 1463v-4h1v-1h1v-1h2v-1h1v-1h1v1h1v1h1v1h1v1h1v-1h2v-1h1v-1h2v-1h1v-1h1v-1h1v-1h1v-1h2v2h1v1h1v2h1v2h1v1h1v1h1v3zM2969 1463v-4h8v4zM2994 1463v-4h6v-4h2v4h5v-4h3v4h3v4zM3019 1463v-5h1v-3h1v-2h1v-3h1v1h1v2h1v1h1v1h1v1h1v1h2v1h1v1h1v4zM3034 1463v-4h9v4zM3044 1463v-4h5v-4h8v4h4v-4h6v-1h1v-3h1v2h1v2h1v1h1v2h1v1h4v-4h5v-2h2v2h1v1h2v1h1v1h1v1h1v1h1v1h1v2zM3095 1463v-4h7v4zM3114 1463v-4h1v-4h7v4h3v4zM3128 1463v-4h2v-4h6v4h3v4zM3162 1463v-5h8v5zM3210 1463v-2h1v-1h1v-2h1v-2h1v-2h5v1h1v4h1v2h1v2zM3243 1463v-5h3v-4h2v-5h2v-1h1v-1h1v-1h2v1h1v2h1v-10h1v-1h1v3h1v2h1v1h1v-9h1v-1h1v-1h1v-1h1v-1h1v-2h1v-1h1v1h1v2h1v2h1v3h1v2h1v2h3v-9h2v-4h1v-4h1v-9h1v-1h1v-40h1v-16h1v2h1v1h1v-4h1v-9h1v-12h1v8h1v-3h1v10h1v10h1v-11h1v-12h1v-12h1v-17h3v8h1v19h1v15h1v16h1v18h1v35h1v8h1v-9h4v5h1v-18h1v-13h2v1h1v12h1v1h1v3h1v-8h1v22h1v1h1v4h1v-1h1v-2h1v-2h2v1h1v4h1v4h1v10h1v3h1v4h3v1h1v4h1v-1h1v-4h3v5h4v4h2v-1h1v-1h1v-2h2v-5h1v-2h1v-1h1v2h1v6h1v-5h4v5h1v-4h1v4h1v1h1v3h5v1h1v4zM3402 1463v-2h1v-2h1v-1h7v5z"/>
<rect x="458" y="1462" width="3096" height="1" fill="#000"/>
<path fill="#8E0152" d="M603 1642v-2h2v2zM609 1642v-2h6v2zM620 1642v-3h6v-1h3v1h9v3zM642 1642v-2h2v-2h6v2h2v2zM657 1642v-2h5v-1h1v-1h9v1h3v1h11v-1h2v-1h1v1h2v1h5v2zM698 1642v-2h3v-1h8v1h5v2zM727 1642v-2h4v-1h2v-1h3v1h2v1h6v2zM747 1642v-2h1v-1h1v-1h6v1h3v1h5v2zM770 1642v-2h8v2zM792 1642v-2h2v-1h4v1h3v2zM811 1642v-2h7v2zM824 1642v-2h3v-1h4v1h3v2zM862 1642v-2h4v-1h2v1h3v2zM876 1642v-2h6v2zM894 1642v-2h8v2zM912 1642v-2h5v-1h5v1h4v2zM935 1642v-2h8v2zM970 1642v-2h8v2zM991 1642v-2h8v2zM1011 1642v-2h8v2zM1032 1642v-2h6v2zM1044 1642v-2h2v-1h1v-1h2v-1h6v1h2v1h3v1h6v2zM1077 1642v-6h1v-2h1v-3h1v-2h1v-1h1v-1h1v-1h1v-2h2v1h1v3h4v-3h1v1h2v1h1v1h1v1h1v1h1v1h1v1h1v2h2v1h2v1h4v1h1v1h1v-1h1v-1h1v-1h3v-2h1v-2h1v-1h1v-1h2v-1h4v1h4v1h1v3h1v1h1v-1h1v-1h1v-2h1v-1h2v-1h1v-2h1v-3h1v-2h3v1h1v1h1v1h1v2h1v1h1v1h1v2h4v-4h1v-6h1v-4h1v-3h1v-3h1v-4h1v-2h1v-19h1v-1h2v-5h1v-2h2v-4h1v-2h1v11h1v2h2v-8h1v1h1v7h1v9h1v-5h1v-5h1v-8h1v-9h1v-1h2v-5h1v-4h1v-1h1v3h1v7h1v6h1v3h1v3h1v1h1v-5h1v-8h1v-7h1v-1h1v-2h1v4h2v-6h2v8h1v13h1v4h1v6h1v3h1v9h1v9h1v14h1v4h1v6h1v3h1v2h3v1h3v-2h1v-5h1v-1h1v-5h1v-2h1v-1h1v-1h2v2h1v1h1v1h1v1h3v-2h1v-2h2v-2h1v1h4v4h1v1h1v1h2v6h4v1h2v-1h3v1h1v4h9v1h1v1h3v1h1v2h1v2zM1274 1642v-2h3v-1h1v-2h10v1h3v1h2v1h10v2zM1306 1642v-2h16v-1h13v3zM1341 1642v-2h14v2zM1363 1642v-2h4v2zM1383 1642v-2h8v2zM1412 1642v-2h6v2zM1424 1642v-2h11v2zM1437 1642v-2h3v2zM1445 1642v-2h9v2zM1462 1642v-2h7v2zM1477 1642v-2h8v2zM1532 1642v-2h9v2zM1542 1642v-3h7v3zM1561 1642v-2h7v2zM1571 1642v-2h8v-1h9v1h8v2zM1654 1642v-2h6v2zM1665 1642v-3h8v1h17v2zM1700 1642v-2h5v-1h17v1h4v2zM1739 1642v-2h6v2zM1748 1642v-2h6v2zM1776 1642v-4h7v4zM1785 1642v-2h9v2zM1796 1642v-3h8v3zM1809 1642v-2h2v-1h2v-1h2v-1h1v-1h1v-1h1v-1h1v1h2v1h4v-1h1v-1h1v-1h1v-1h1v-1h2v1h1v1h1v1h5v-1h3v1h2v1h2v2h1v1h1v1h1v1h1v2zM1858 1642v-2h7v2zM1869 1642v-2h6v2zM1880 1642v-2h4v2zM1929 1642v-2h5v2zM1941 1642v-3h4v-1h5v1h5v3zM1962 1642v-4h13v2h7v2zM2006 1642v-2h19v2zM2080 1642v-3h10v1h6v2zM2111 1642v-2h8v2zM2122 1642v-2h12v2zM2135 1642v-3h9v3zM2155 1642v-2h7v2zM2182 1642v-2h16v2zM2203 1642v-2h14v2zM2232 1642v-3h10v1h25v2zM2276 1642v-2h11v-1h4v1h2v2zM2294 1642v-4h15v4zM2448 1642v-2h11v2zM2463 1642v-3h13v3zM2527 1642v-2h7v2zM2541 1642v-2h13v2zM2665 1642v-2h9v2zM2676 1642v-2h11v2zM2699 1642v-3h10v3zM2716 1642v-2h5v-1h23v3zM2759 1642v-2h5v2zM2770 1642v-2h6v2zM2783 1642v-2h5v-1h6v-1h7v-1h1v1h7v1h5v1h4v2zM2844 1642v-2h6v2zM2853 1642v-2h17v-1h3v-1h2v-1h2v1h3v1h2v1h1v2zM2888 1642v-2h7v2zM2898 1642v-2h7v2zM2923 1642v-2h1v-1h2v-1h5v1h2v1h2v2zM2959 1642v-2h13v2zM2976 1642v-2h8v2zM2998 1642v-2h2v-1h2v-1h4v1h2v1h2v2zM3017 1642v-3h13v3zM3034 1642v-2h9v2zM3054 1642v-2h20v2zM3079 1642v-2h5v2zM3116 1642v-2h28v2zM3154 1642v-5h1v-2h1v-2h1v-1h1v-1h1v-1h2v-2h1v1h1v1h1v2h1v2h1v1h3v2h1v1h3v1h5v1h18v-1h2v-1h1v-1h3v1h2v1h8v-1h1v-1h1v-1h4v-1h1v2h4v1h5v1h2v-1h1v-1h7v-1h2v-1h7v1h1v1h1v-3h3v-3h2v-2h1v-2h1v-3h1v-2h1v-1h1v-2h3v2h4v4h1v1h1v-5h6v-1h1v1h3v-1h1v-10h1v-1h1v-1h1v-10h2v-14h1v-1h1v-7h1v-12h1v-10h2v4h1v-2h1v1h1v1h1v3h2v4h1v5h1v-9h1v4h1v6h1v7h1v11h1v4h1v1h1v19h1v7h1v2h1v2h1v-6h1v-7h1v-8h1v-4h1v-3h1v1h1v2h1v2h1v1h1v-1h1v4h3v11h1v-2h2v1h1v6h1v5h1v3h1v-1h1v-1h4v1h1v1h2v1h1v1h1v1h1v2h1v1h1v1h1v2h2v-1h5v-1h2v1h5v1h6v1h4v-2h4v-1h2v1h7v1h5v1h7v1h2v-1h8v1h1v2z"/>
<rect x="458" y="1641" width="3096" height="1" fill="#000"/>
</g>
<g shape-rendering="crispEdges">
<rect x="158" y="45" width="4" height="1604" fill="#000"/>
</g>
<g>
<rect x="149" y="213.15" width="11" height="3.7" fill="#333"/>
<rect x="149" y="153.3" width="11" height="3.7" fill="#333"/>
<rect x="149" y="93.45" width="11" height="3.7" fill="#333"/>
<rect x="149" y="391.4" width="11" height="3.7" fill="#333"/>
<rect x="149" y="331.55" width="11" height="3.7" fill="#333"/>
<rect x="149" y="271.7" width="11" height="3.7" fill="#333"/>
<rect x="149" y="569.65" width="11" height="3.7" fill="#333"/>
<rect x="149" y="509.8" width="11" height="3.7" fill="#333"/>
<rect x="149" y="449.95" width="11" height="3.7" fill="#333"/>
<rect x="149" y="747.9" width="11" height="3.7" fill="#333"/>
<rect x="149" y="688.05" width="11" height="3.7" fill="#333"/>
<rect x="149" y="628.2" width="11" height="3.7" fill="#333"/>
<rect x="149" y="926.15" width="11" height="3.7" fill="#333"/>
<rect x="149" y="866.3" width="11" height="3.7" fill="#333"/>
<rect x="149" y="806.45" width="11" height="3.7" fill="#333"/>
<rect x="149" y="1104.4" width="11" height="3.7" fill="#333"/>
<rect x="149" y="1044.55" width="11" height="3.7" fill="#333"/>
<rect x="149" y="984.7" width="11" height="3.7" fill="#333"/>
<rect x="149" y="1282.65" width="11" height="3.7" fill="#333"/>
<rect x="149" y="1222.8" width="11" height="3.7" fill="#333"/>
<rect x="149" y="1162.95" width="11" height="3.7" fill="#333"/>
<rect x="149" y="1460.9" width="11" height="3.7" fill="#333"/>
<rect x="149" y="1401.05" width="11" height="3.7" fill="#333"/>
<rect x="149" y="1341.2" width="11" height="3.7" fill="#333"/>
<rect x="149" y="1639.15" width="11" height="3.7" fill="#333"/>
<rect x="149" y="1579.3" width="11" height="3.7" fill="#333"/>
<rect x="149" y="1519.45" width="11" height="3.7" fill="#333"/>
<rect x="158" y="1706" width="4" height="319.5" fill="#000"/>
<rect x="158" y="2084" width="4" height="160" fill="#000"/>
<rect x="458" y="2242" width="3096" height="4" fill="#000"/>
<rect x="780.15" y="2244" width="3.7" height="11" fill="#333"/>
<rect x="1620.75" y="2244" width="3.7" height="11" fill="#333"/>
<rect x="2461.35" y="2244" width="3.7" height="11" fill="#333"/>
<rect x="3301.95" y="2244" width="3.7" height="11" fill="#333"/>
</g>
<text x="308.5" y="149" font-size="36.6" fill="#1A1A1A" text-anchor="middle">5 DP</text>
<text x="308.5" y="327.25" font-size="36.6" fill="#1A1A1A" text-anchor="middle">3 PF</text>
<text x="308.5" y="505.5" font-size="36.6" fill="#1A1A1A" text-anchor="middle">1 PF</text>
<text x="308.5" y="683.75" font-size="36.6" fill="#1A1A1A" text-anchor="middle">6 PF</text>
<text x="308.5" y="862" font-size="36.6" fill="#1A1A1A" text-anchor="middle">2 Div Fibro</text>
<text x="308.5" y="1040.25" font-size="36.6" fill="#1A1A1A" text-anchor="middle">0 RF</text>
<text x="308.5" y="1218.5" font-size="36.6" fill="#1A1A1A" text-anchor="middle">4 RF</text>
<text x="308.5" y="1395.55" font-size="36.6" fill="#1A1A1A" text-anchor="middle">8 Pre-Adipocyte</text>
<text x="308.5" y="1575" font-size="36.6" fill="#1A1A1A" text-anchor="middle">7 Fascia</text>
<text transform="translate(80.4,854.3) rotate(-90)" font-size="46.1" fill="#000" text-anchor="middle">Normalized accessibility</text>
<text transform="translate(129.6,847.2) rotate(-90)" font-size="46.1" fill="#000" text-anchor="middle">(range 0 - 270)</text>
<text transform="translate(104.6,1866.9) rotate(-90)" font-size="46.4" fill="#000" text-anchor="middle">Genes</text>
<text transform="translate(104.6,2164.2) rotate(-90)" font-size="46.4" fill="#000" text-anchor="middle">Peaks</text>
<text x="782" y="2292.6" font-size="37.5" fill="#4D4D4D" text-anchor="middle">56580000</text>
<text x="1622.6" y="2292.6" font-size="37.5" fill="#4D4D4D" text-anchor="middle">56590000</text>
<text x="2463.2" y="2292.6" font-size="37.5" fill="#4D4D4D" text-anchor="middle">56600000</text>
<text x="3303.8" y="2292.6" font-size="37.5" fill="#4D4D4D" text-anchor="middle">56610000</text>
<text x="2006" y="2346.3" font-size="46.4" fill="#000" text-anchor="middle">chr17 position (bp)</text>
<g>
<rect x="1187" y="1857" width="1808" height="4" fill="#00008B" shape-rendering="crispEdges"/>
<path d="M1176.8 1848.4 L1187.4 1859 L1176.8 1869.6" fill="none" stroke="#00008B" stroke-width="4" stroke-linejoin="round"/>
<path d="M1260.91 1848.4 L1271.51 1859 L1260.91 1869.6" fill="none" stroke="#00008B" stroke-width="4" stroke-linejoin="round"/>
<path d="M1345.02 1848.4 L1355.62 1859 L1345.02 1869.6" fill="none" stroke="#00008B" stroke-width="4" stroke-linejoin="round"/>
<path d="M1429.13 1848.4 L1439.73 1859 L1429.13 1869.6" fill="none" stroke="#00008B" stroke-width="4" stroke-linejoin="round"/>
<path d="M1513.24 1848.4 L1523.84 1859 L1513.24 1869.6" fill="none" stroke="#00008B" stroke-width="4" stroke-linejoin="round"/>
<path d="M1597.35 1848.4 L1607.95 1859 L1597.35 1869.6" fill="none" stroke="#00008B" stroke-width="4" stroke-linejoin="round"/>
<path d="M1681.46 1848.4 L1692.06 1859 L1681.46 1869.6" fill="none" stroke="#00008B" stroke-width="4" stroke-linejoin="round"/>
<path d="M1765.57 1848.4 L1776.17 1859 L1765.57 1869.6" fill="none" stroke="#00008B" stroke-width="4" stroke-linejoin="round"/>
<path d="M1849.68 1848.4 L1860.28 1859 L1849.68 1869.6" fill="none" stroke="#00008B" stroke-width="4" stroke-linejoin="round"/>
<path d="M1933.79 1848.4 L1944.39 1859 L1933.79 1869.6" fill="none" stroke="#00008B" stroke-width="4" stroke-linejoin="round"/>
<path d="M2017.9 1848.4 L2028.5 1859 L2017.9 1869.6" fill="none" stroke="#00008B" stroke-width="4" stroke-linejoin="round"/>
<path d="M2102.01 1848.4 L2112.61 1859 L2102.01 1869.6" fill="none" stroke="#00008B" stroke-width="4" stroke-linejoin="round"/>
<path d="M2186.12 1848.4 L2196.72 1859 L2186.12 1869.6" fill="none" stroke="#00008B" stroke-width="4" stroke-linejoin="round"/>
<path d="M2270.23 1848.4 L2280.83 1859 L2270.23 1869.6" fill="none" stroke="#00008B" stroke-width="4" stroke-linejoin="round"/>
<path d="M2354.34 1848.4 L2364.94 1859 L2354.34 1869.6" fill="none" stroke="#00008B" stroke-width="4" stroke-linejoin="round"/>
<path d="M2438.45 1848.4 L2449.05 1859 L2438.45 1869.6" fill="none" stroke="#00008B" stroke-width="4" stroke-linejoin="round"/>
<path d="M2522.56 1848.4 L2533.16 1859 L2522.56 1869.6" fill="none" stroke="#00008B" stroke-width="4" stroke-linejoin="round"/>
<path d="M2606.67 1848.4 L2617.27 1859 L2606.67 1869.6" fill="none" stroke="#00008B" stroke-width="4" stroke-linejoin="round"/>
<path d="M2690.78 1848.4 L2701.38 1859 L2690.78 1869.6" fill="none" stroke="#00008B" stroke-width="4" stroke-linejoin="round"/>
<path d="M2774.89 1848.4 L2785.49 1859 L2774.89 1869.6" fill="none" stroke="#00008B" stroke-width="4" stroke-linejoin="round"/>
<path d="M2859 1848.4 L2869.6 1859 L2859 1869.6" fill="none" stroke="#00008B" stroke-width="4" stroke-linejoin="round"/>
<path d="M2943.11 1848.4 L2953.71 1859 L2943.11 1869.6" fill="none" stroke="#00008B" stroke-width="4" stroke-linejoin="round"/>
<rect x="1187" y="1837" width="45" height="44" fill="#00008B" shape-rendering="crispEdges"/>
<rect x="1520.5" y="1837" width="6.5" height="44" fill="#00008B" shape-rendering="crispEdges"/>
<rect x="1933.5" y="1837" width="4.5" height="44" fill="#00008B" shape-rendering="crispEdges"/>
<rect x="1945" y="1837" width="17" height="44" fill="#00008B" shape-rendering="crispEdges"/>
<rect x="2002" y="1837" width="169" height="44" fill="#00008B" shape-rendering="crispEdges"/>
<rect x="2276" y="1837" width="160" height="44" fill="#00008B" shape-rendering="crispEdges"/>
<rect x="2492" y="1837" width="8" height="44" fill="#00008B" shape-rendering="crispEdges"/>
<rect x="2533.5" y="1837" width="11.5" height="44" fill="#00008B" shape-rendering="crispEdges"/>
<rect x="2552" y="1837" width="6" height="44" fill="#00008B" shape-rendering="crispEdges"/>
<rect x="2567" y="1837" width="11.5" height="44" fill="#00008B" shape-rendering="crispEdges"/>
<rect x="2581" y="1837" width="11" height="44" fill="#00008B" shape-rendering="crispEdges"/>
<rect x="2704.5" y="1837" width="9" height="44" fill="#00008B" shape-rendering="crispEdges"/>
<rect x="2760" y="1837" width="25" height="44" fill="#00008B" shape-rendering="crispEdges"/>
<rect x="2812" y="1837" width="33" height="44" fill="#00008B" shape-rendering="crispEdges"/>
<rect x="2903" y="1837" width="90" height="44" fill="#00008B" shape-rendering="crispEdges"/>
</g>
<text x="2090.2" y="1817.8" font-size="36" fill="#000" text-anchor="middle">Safb</text>
<g>
<rect x="600" y="1996" width="567" height="4" fill="#006400" shape-rendering="crispEdges"/>
<path d="M610.3 1987.4 L599.7 1998 L610.3 2008.6" fill="none" stroke="#006400" stroke-width="4" stroke-linejoin="round"/>
<path d="M694.2 1987.4 L683.6 1998 L694.2 2008.6" fill="none" stroke="#006400" stroke-width="4" stroke-linejoin="round"/>
<path d="M778.1 1987.4 L767.5 1998 L778.1 2008.6" fill="none" stroke="#006400" stroke-width="4" stroke-linejoin="round"/>
<path d="M862 1987.4 L851.4 1998 L862 2008.6" fill="none" stroke="#006400" stroke-width="4" stroke-linejoin="round"/>
<path d="M945.9 1987.4 L935.3 1998 L945.9 2008.6" fill="none" stroke="#006400" stroke-width="4" stroke-linejoin="round"/>
<path d="M1029.8 1987.4 L1019.2 1998 L1029.8 2008.6" fill="none" stroke="#006400" stroke-width="4" stroke-linejoin="round"/>
<path d="M1113.7 1987.4 L1103.1 1998 L1113.7 2008.6" fill="none" stroke="#006400" stroke-width="4" stroke-linejoin="round"/>
<rect x="600" y="1976" width="5" height="44" fill="#006400" shape-rendering="crispEdges"/>
<rect x="667" y="1976" width="17" height="44" fill="#006400" shape-rendering="crispEdges"/>
<rect x="687" y="1976" width="9" height="44" fill="#006400" shape-rendering="crispEdges"/>
<rect x="1033" y="1976" width="7" height="44" fill="#006400" shape-rendering="crispEdges"/>
<rect x="1141" y="1976" width="26" height="44" fill="#006400" shape-rendering="crispEdges"/>
</g>
<text x="883.2" y="1957.1" font-size="36" fill="#000" text-anchor="middle">Safb2</text>
<g>
<rect x="3090" y="1996" width="195" height="4" fill="#006400" shape-rendering="crispEdges"/>
<path d="M3100.9 1987.4 L3090.3 1998 L3100.9 2008.6" fill="none" stroke="#006400" stroke-width="4" stroke-linejoin="round"/>
<path d="M3184.9 1987.4 L3174.3 1998 L3184.9 2008.6" fill="none" stroke="#006400" stroke-width="4" stroke-linejoin="round"/>
<path d="M3268.9 1987.4 L3258.3 1998 L3268.9 2008.6" fill="none" stroke="#006400" stroke-width="4" stroke-linejoin="round"/>
<rect x="3090" y="1976" width="33" height="44" fill="#006400" shape-rendering="crispEdges"/>
<rect x="3190" y="1976" width="4" height="44" fill="#006400" shape-rendering="crispEdges"/>
<rect x="3207" y="1976" width="14.5" height="44" fill="#006400" shape-rendering="crispEdges"/>
<rect x="3274" y="1976" width="11" height="44" fill="#006400" shape-rendering="crispEdges"/>
</g>
<text x="3187" y="1957.0" font-size="36" fill="#000" text-anchor="middle">2410015M20Rik</text>
<rect x="1082" y="2156" width="188" height="17" fill="#696969" shape-rendering="crispEdges"/>
<rect x="3235" y="2156" width="114" height="17" fill="#696969" shape-rendering="crispEdges"/>
</svg>
</body></html>
